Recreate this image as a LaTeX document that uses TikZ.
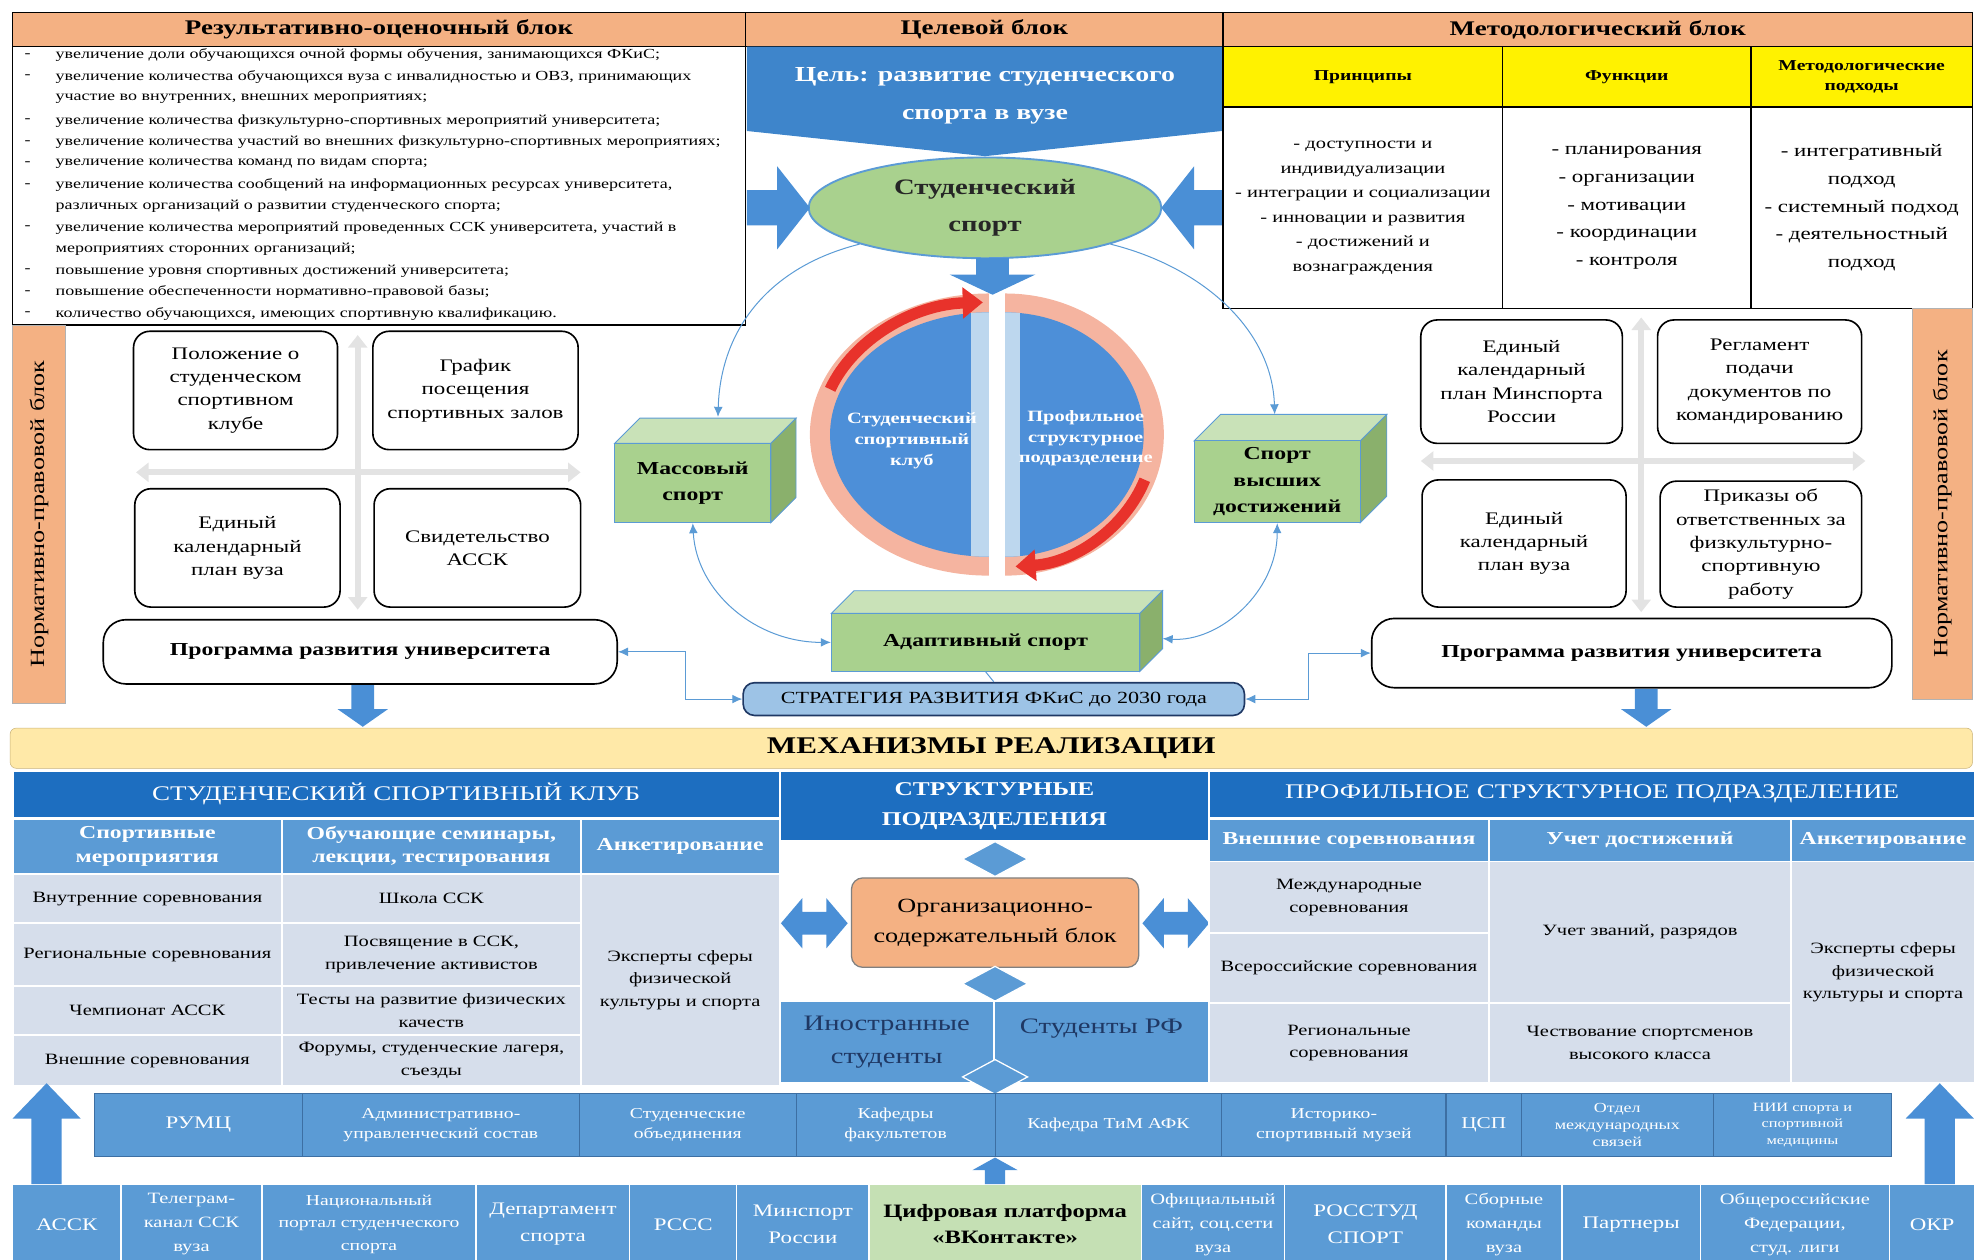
\documentclass[tikz,border=0pt]{standalone}
\usepackage{fontspec}
\setmainfont{Liberation Serif}[FakeStretch=1.3]
\usetikzlibrary{arrows.meta,shapes.geometric,calc}

\definecolor{peach}{HTML}{F4B183}
\definecolor{navy}{HTML}{1D6EC0}
\definecolor{midblue}{HTML}{5B9BD5}
\definecolor{pale}{HTML}{D6DEEB}
\definecolor{stripedge}{HTML}{3D6FA3}
\definecolor{goalblue}{HTML}{3E85CB}
\definecolor{arrowblue}{HTML}{4A8FD6}
\definecolor{linkblue}{HTML}{5B9BD5}
\definecolor{sportgreen}{HTML}{A9D18E}
\definecolor{cubegreen}{HTML}{A9D18E}
\definecolor{cubetop}{HTML}{C9E2B8}
\definecolor{cubeside}{HTML}{8AB06C}
\definecolor{vkgreen}{HTML}{C5E0B4}
\definecolor{cream}{HTML}{FFE9A8}
\definecolor{creamedge}{HTML}{C9B27A}
\definecolor{skyblue}{HTML}{9DC3E6}
\definecolor{darknavy}{HTML}{1F3864}
\definecolor{ringpink}{HTML}{F5B4A0}
\definecolor{circblue}{HTML}{4D8FD8}
\definecolor{stripe}{HTML}{BDD7EE}
\definecolor{redarc}{HTML}{E8322B}

\newcommand{\fsz}[2]{\fontsize{#1}{#2}\selectfont}

% cell given by its corners: name, style, x1, y1, x2, y2, text
\newcommand{\cellat}[7]{\node[#2, inner sep=1pt, minimum width={(#5)-(#3)}, minimum height={(#6)-(#4)}] (#1) at ({((#3)+(#5))/2},{((#4)+(#6))/2}) {#7};}
% block arrows: x, tail, tip, body half, head half, head length
\newcommand{\varrow}[6]{\fill[blockarr] ({#1-#4},#2) -- ({#1+#4},#2) -- ({#1+#4},{#3-(#6)}) -- ({#1+#5},{#3-(#6)}) -- (#1,#3) -- ({#1-#5},{#3-(#6)}) -- ({#1-#4},{#3-(#6)}) -- cycle;}
\newcommand{\harrow}[6]{\fill[blockarr] (#2,{#1-#4}) -- (#2,{#1+#4}) -- ({#3-(#6)},{#1+#4}) -- ({#3-(#6)},{#1+#5}) -- (#3,#1) -- ({#3-(#6)},{#1-#5}) -- ({#3-(#6)},{#1-#4}) -- cycle;}
\newcommand{\dblarrow}[3]{\fill[blockarr] (#1,#3) -- ({#1+17},{#3-20}) -- ({#1+17},{#3-9}) -- ({#2-17},{#3-9}) -- ({#2-17},{#3-20}) -- (#2,#3) -- ({#2-17},{#3+20}) -- ({#2-17},{#3+9}) -- ({#1+17},{#3+9}) -- ({#1+17},{#3+20}) -- cycle;}
% green box: name, x1, y1, x2, y2, depth, text
\newcommand{\greencube}[7]{%
  \filldraw[fill=cubetop, draw=linkblue, line width=0.7pt] (#2,#3) -- ({#2+#6},{#3-#6}) -- ({#4+#6},{#3-#6}) -- (#4,#3) -- cycle;
  \filldraw[fill=cubeside, draw=linkblue, line width=0.7pt] (#4,#3) -- ({#4+#6},{#3-#6}) -- ({#4+#6},{#5-#6}) -- (#4,#5) -- cycle;
  \cellat{#1}{cubefront}{#2}{#3}{#4}{#5}{#7}}

\tikzset{
  hdr/.style={draw=black, line width=1.1pt, fill=peach, font=\fsz{16.5}{19}\bfseries},
  tabframe/.style={draw=black, line width=1.1pt},
  yelcell/.style={tabframe, fill=yellow, align=center, font=\fsz{12}{16}\bfseries},
  bodycell/.style={tabframe, fill=white, align=center, font=\fsz{12.5}{19.5}},
  listtxt/.style={font=\fsz{11}{14}, inner sep=0pt},
  goaltxt/.style={text=white, align=center, font=\fsz{17}{30}\bfseries},
  doc/.style={draw=black, line width=1.3pt, rounded corners=13pt, fill=white, align=center, font=\fsz{14}{18.5}},
  prog/.style={draw=black, line width=1.3pt, rounded corners=18pt, fill=white, font=\fsz{14.5}{18}\bfseries},
  normbar/.style={fill=peach, draw=gray!60, rotate=90, font=\fsz{16}{18}},
  cubefront/.style={fill=cubegreen, draw=linkblue, line width=0.7pt, align=center, font=\fsz{14.5}{21}\bfseries},
  stratbox/.style={fill=skyblue, draw=darknavy, line width=1.3pt, rounded corners=9pt, font=\fsz{13.5}{16}},
  link/.style={draw=linkblue, line width=0.8pt, >={Latex[length=8pt,width=7pt]}},
  crossarr/.style={draw=gray!22, line width=5pt, {Triangle[length=10pt,width=15pt]}-{Triangle[length=10pt,width=15pt]}},
  halftxt/.style={text=white, align=center, font=\fsz{12.5}{16.5}\bfseries},
  mechbar/.style={fill=cream, draw=creamedge, rounded corners=5pt, font=\fsz{19}{22}\bfseries},
  navycell/.style={fill=navy, draw=white, line width=1.5pt, text=white, align=center},
  subcell/.style={fill=midblue, draw=white, line width=1.5pt, text=white, align=center, font=\fsz{14.5}{19}\bfseries},
  palecell/.style={fill=pale, draw=white, line width=1.5pt, align=center, font=\fsz{12.5}{18}},
  orgbox/.style={fill=peach, draw=gray, line width=1pt, rounded corners=9pt, align=center, font=\fsz{16}{24}},
  bigblue/.style={fill=midblue, draw=white, line width=1.5pt, text=darknavy, align=center, font=\fsz{17.5}{26}},
  dmd/.style={diamond, fill=midblue, draw=white, line width=1pt, aspect=1.9, minimum width=52pt, minimum height=28pt, inner sep=0pt},
  stripcell/.style={fill=midblue, draw=stripedge, line width=0.8pt, text=white, align=center, font=\fsz{12}{16}},
  rowcell/.style={fill=midblue, draw=white, line width=1pt, text=white, align=center, font=\fsz{12.5}{19}},
  vkcell/.style={fill=vkgreen, draw=white, line width=1pt, align=center, font=\fsz{15}{21}\bfseries},
  blockarr/.style={fill=arrowblue},
}

\begin{document}
\begin{tikzpicture}[x=1pt,y=-1pt]
\useasboundingbox (0,0) rectangle (1568,1000);

% top blocks
\cellat{reshead}{hdr}{10}{10}{592}{37}{Результативно-оценочный блок}
\cellat{goalhead}{hdr}{592}{10}{971}{37}{Целевой блок}
\cellat{methhead}{hdr}{971}{10}{1566}{37}{Методологический блок}
\cellat{reslist}{tabframe}{10}{37}{592}{258}{}
\foreach \i/\yy/\txt in {1/44/{увеличение доли обучающихся очной формы обучения, занимающихся ФКиС;},
    2/61/{увеличение количества обучающихся вуза с инвалидностью и ОВЗ, принимающих},
    3/78/{участие во внутренних, внешних мероприятиях;},
    4/96/{увеличение количества физкультурно-спортивных мероприятий университета;},
    5/113/{увеличение количества участий во внешних физкультурно-спортивных мероприятиях;},
    6/130/{увеличение количества команд по видам спорта;},
    7/147/{увеличение количества сообщений на информационных ресурсах университета,},
    8/164/{различных организаций о развитии студенческого спорта;},
    9/181/{увеличение количества мероприятий проведенных ССК университета, участий в},
    10/198/{мероприятиях сторонних организаций;},
    11/215/{повышение уровня спортивных достижений университета;},
    12/232/{повышение обеспеченности нормативно-правовой базы;},
    13/249/{количество обучающихся, имеющих спортивную квалификацию.}}
  \node[listtxt, anchor=west] (res\i) at (44,\yy) {\txt};
\foreach \i/\yy in {1/44,2/61,4/96,5/113,6/130,7/147,9/181,11/215,12/232,13/249}
  \node[listtxt] (dash\i) at (22,\yy) {-};

\fill[goalblue] (593,37) -- (970,37) -- (970,104) -- (782,124) -- (593,104) -- cycle;
\node[goaltxt] (goal) at (782,76) {Цель: развитие студенческого\\спорта в вузе};
\node[ellipse, fill=sportgreen, draw=linkblue, line width=1.5pt, minimum width=280pt, minimum height=80pt,
  align=center, font=\fsz{17.5}{29}\bfseries, text=black!85] (stusport) at (782,165) {Студенческий\\спорт};
\harrow{165}{593}{643}{14}{33}{26}
\harrow{165}{970}{922}{14}{33}{-26}
\varrow{788}{205}{234}{13}{34}{16}

\cellat{princh}{yelcell}{971}{37}{1193}{85}{Принципы}
\cellat{funch}{yelcell}{1193}{37}{1390}{85}{Функции}
\cellat{apprh}{yelcell}{1390}{37}{1566}{85}{Методологические\\подходы}
\cellat{princ}{bodycell}{971}{85}{1193}{245}{- доступности и\\индивидуализации\\- интеграции и социализации\\- инновации и развития\\- достижений и\\вознаграждения}
\cellat{func}{bodycell, font=\fsz{14}{22}}{1193}{85}{1390}{245}{- планирования\\- организации\\- мотивации\\- координации\\- контроля}
\cellat{appr}{bodycell, font=\fsz{14}{22}}{1390}{85}{1566}{245}{- интегративный\\подход\\- системный подход\\- деятельностный\\подход}

% normative blocks
\node[normbar, minimum width=300pt, minimum height=42pt] (normL) at (31,408) {Нормативно-правовой блок};
\node[normbar, minimum width=310pt, minimum height=48pt] (normR) at (1542,400) {Нормативно-правовой блок};

\coordinate (vtopL) at (284,266);
\coordinate (vbotL) at (284,484);
\coordinate (hlftL) at (108,375);
\coordinate (hrgtL) at (461,375);
\draw[crossarr] (vtopL) -- (vbotL);
\draw[crossarr] (hlftL) -- (hrgtL);
\cellat{polozh}{doc}{106}{263}{268}{357}{Положение о\\студенческом\\спортивном\\клубе}
\cellat{grafik}{doc}{296}{263}{459}{357}{График\\посещения\\спортивных залов}
\cellat{edplanL}{doc}{107}{388}{270}{482}{Единый\\календарный\\план вуза}
\cellat{svid}{doc}{297}{388}{461}{482}{Свидетельство\\АССК}
\cellat{proglft}{prog}{82}{492}{490}{543}{Программа развития университета}
\varrow{288}{544}{577}{9}{20}{14}

\coordinate (vtopR) at (1303,252);
\coordinate (vbotR) at (1303,486);
\coordinate (hlftR) at (1128,366);
\coordinate (hrgtR) at (1481,366);
\draw[crossarr] (vtopR) -- (vbotR);
\draw[crossarr] (hlftR) -- (hrgtR);
\cellat{edplanM}{doc}{1128}{254}{1288}{352}{Единый\\календарный\\план Минспорта\\России}
\cellat{reglam}{doc}{1316}{254}{1478}{352}{Регламент\\подачи\\документов по\\командированию}
\cellat{edplanR}{doc}{1129}{381}{1291}{482}{Единый\\календарный\\план вуза}
\cellat{prikaz}{doc}{1318}{382}{1478}{482}{Приказы об\\ответственных за\\физкультурно-\\спортивную\\работу}
\cellat{progrgt}{prog}{1089}{491}{1502}{546}{Программа развития университета}
\varrow{1307}{547}{577}{9}{20}{14}

% circle of two halves
\begin{scope}
  \clip (600,200) rectangle (785,480);
  \fill[ringpink] (785,345) ellipse [x radius=142, y radius=112];
  \fill[circblue] (785,345) ellipse [x radius=126, y radius=97];
  \clip (785,345) ellipse [x radius=126, y radius=97];
  \fill[stripe] (771,240) rectangle (785,450);
\end{scope}
\begin{scope}
  \clip (798,200) rectangle (960,480);
  \fill[ringpink] (798,345) ellipse [x radius=126, y radius=112];
  \fill[circblue] (798,345) ellipse [x radius=110, y radius=97];
  \clip (798,345) ellipse [x radius=110, y radius=97];
  \fill[stripe] (798,240) rectangle (810,450);
\end{scope}
\draw[redarc, line width=9pt, -{Triangle[length=16pt,width=24pt]}] (785,345) ++(200:134 and 105) arc[start angle=200, end angle=268, x radius=134, y radius=105];
\draw[redarc, line width=9pt, -{Triangle[length=16pt,width=24pt]}] (798,345) ++(20:118 and 105) arc[start angle=20, end angle=86, x radius=118, y radius=105];
\node[halftxt] (clubtxt) at (724,350) {Студенческий\\спортивный\\клуб};
\node[halftxt] (deptxt) at (862,348) {Профильное\\структурное\\подразделение};

\greencube{mass}{488}{352}{612}{415}{20}{Массовый\\спорт}
\greencube{peak}{948}{350}{1080}{415}{21}{Спорт\\высших\\достижений}
\greencube{adapt}{660}{487}{905}{533}{18}{Адаптивный спорт}
\cellat{strategy}{stratbox}{590}{542}{988}{568}{СТРАТЕГИЯ РАЗВИТИЯ ФКиС до 2030 года}

\coordinate (masstop) at (570,331);
\coordinate (peaktop) at (1012,329);
\coordinate (adaptside) at (923,507);
\draw[link,->] (stusport.south west) .. controls (610,212) and (572,262) .. (masstop);
\draw[link,->] (stusport.south east) .. controls (955,212) and (1010,262) .. (peaktop);
\draw[link,<->] (mass.south) .. controls (553,470) and (600,510) .. (adapt.west);
\draw[link,<->] (peak.south) .. controls (1014,470) and (968,510) .. (adaptside);
\draw[link] (adapt.south) -- (strategy.north);
\draw[link,<->] (strategy.west) -- ++(-45,0) |- (proglft.east);
\draw[link,<->] (strategy.east) -- ++(50,0) |- (progrgt.west);

% mechanisms
\cellat{mech}{mechbar}{8}{578}{1566}{610}{МЕХАНИЗМЫ РЕАЛИЗАЦИИ}

\cellat{sskhead}{navycell, font=\fsz{16.5}{20}}{10}{612}{619}{649}{СТУДЕНЧЕСКИЙ СПОРТИВНЫЙ КЛУБ}
\cellat{ssksub1}{subcell}{10}{650}{224}{694}{Спортивные\\мероприятия}
\cellat{ssksub2}{subcell}{224}{650}{461}{694}{Обучающие семинары,\\лекции, тестирования}
\cellat{ssksub3}{subcell}{461}{650}{619}{694}{Анкетирование}
\cellat{ssk11}{palecell}{10}{694}{224}{733}{Внутренние соревнования}
\cellat{ssk12}{palecell}{10}{733}{224}{783}{Региональные соревнования}
\cellat{ssk13}{palecell}{10}{783}{224}{822}{Чемпионат АССК}
\cellat{ssk14}{palecell}{10}{822}{224}{862}{Внешние соревнования}
\cellat{ssk21}{palecell}{224}{694}{461}{733}{Школа ССК}
\cellat{ssk22}{palecell}{224}{733}{461}{783}{Посвящение в ССК,\\привлечение активистов}
\cellat{ssk23}{palecell}{224}{783}{461}{822}{Тесты на развитие физических\\качеств}
\cellat{ssk24}{palecell}{224}{822}{461}{862}{Форумы, студенческие лагеря,\\съезды}
\cellat{ssk3}{palecell}{461}{694}{619}{862}{Эксперты сферы\\физической\\культуры и спорта}

\cellat{structhead}{navycell, font=\fsz{15.5}{24}\bfseries}{619}{612}{960}{668}{СТРУКТУРНЫЕ\\ПОДРАЗДЕЛЕНИЯ}
\node[dmd] (dtop) at (790,682) {};
\cellat{orgblock}{orgbox}{676}{697}{904}{768}{Организационно-\\содержательный блок}
\node[dmd] (dmid) at (790,781) {};
\dblarrow{620}{673}{733}
\dblarrow{907}{960}{733}
\cellat{forstud}{bigblue}{619}{795}{789}{860}{Иностранные\\студенты}
\cellat{rfstud}{bigblue}{789}{795}{960}{860}{Студенты РФ\\\phantom{с}}
\node[dmd] (dbot) at (790,855) {};

\cellat{psphead}{navycell, font=\fsz{16.5}{20}}{960}{612}{1568}{649}{ПРОФИЛЬНОЕ СТРУКТУРНОЕ ПОДРАЗДЕЛЕНИЕ}
\cellat{pspsub1}{subcell}{960}{650}{1182}{684}{Внешние соревнования}
\cellat{pspsub2}{subcell}{1182}{650}{1422}{684}{Учет достижений}
\cellat{pspsub3}{subcell}{1422}{650}{1568}{684}{Анкетирование}
\cellat{psp11}{palecell}{960}{684}{1182}{741}{Международные\\соревнования}
\cellat{psp12}{palecell}{960}{741}{1182}{796}{Всероссийские соревнования}
\cellat{psp13}{palecell}{960}{796}{1182}{860}{Региональные\\соревнования}
\cellat{psp21}{palecell}{1182}{684}{1422}{796}{Учет званий, разрядов}
\cellat{psp22}{palecell}{1182}{796}{1422}{860}{Чествование спортсменов\\высокого класса}
\cellat{psp3}{palecell}{1422}{684}{1568}{860}{Эксперты сферы\\физической\\культуры и спорта}

% participants
\cellat{sRumc}{stripcell, font=\fsz{14}{17}}{75}{868}{240}{918}{РУМЦ}
\cellat{sAdmin}{stripcell}{240}{868}{460}{918}{Административно-\\управленческий состав}
\cellat{sUnions}{stripcell}{460}{868}{632}{918}{Студенческие\\объединения}
\cellat{sDepts}{stripcell}{632}{868}{790}{918}{Кафедры\\факультетов}
\cellat{sTim}{stripcell}{790}{868}{970}{918}{Кафедра ТиМ АФК}
\cellat{sMuseum}{stripcell}{970}{868}{1148}{918}{Историко-\\спортивный музей}
\cellat{sCsp}{stripcell, font=\fsz{13}{16}}{1148}{868}{1208}{918}{ЦСП}
\cellat{sIntl}{stripcell, font=\fsz{11}{13.5}}{1208}{868}{1360}{918}{Отдел\\международных\\связей}
\cellat{sNii}{stripcell, font=\fsz{10}{13}}{1360}{868}{1502}{918}{НИИ спорта и\\спортивной\\медицины}

\cellat{bAssk}{rowcell, font=\fsz{14}{19}}{10}{940}{96}{1004}{АССК}
\cellat{bTelegram}{rowcell}{96}{940}{208}{1004}{Телеграм-\\канал ССК\\вуза}
\cellat{bPortal}{rowcell, font=\fsz{12}{18}}{208}{940}{378}{1004}{Национальный\\портал студенческого\\спорта}
\cellat{bDept}{rowcell, font=\fsz{14}{21}}{378}{940}{500}{1004}{Департамент\\спорта}
\cellat{bRsss}{rowcell, font=\fsz{14}{19}}{500}{940}{585}{1004}{РССС}
\cellat{bMinsport}{rowcell, font=\fsz{14}{21}}{585}{940}{690}{1004}{Минспорт\\России}
\cellat{bVk}{vkcell}{690}{940}{906}{1004}{Цифровая платформа\\«ВКонтакте»}
\cellat{bSite}{rowcell}{906}{940}{1020}{1004}{Официальный\\сайт, соц.сети\\вуза}
\cellat{bRosstud}{rowcell, font=\fsz{14}{21}}{1020}{940}{1148}{1004}{РОССТУД\\СПОРТ}
\cellat{bTeams}{rowcell}{1148}{940}{1240}{1004}{Сборные\\команды\\вуза}
\cellat{bPartners}{rowcell, font=\fsz{14}{19}}{1240}{940}{1350}{1004}{Партнеры}
\cellat{bFeder}{rowcell}{1350}{940}{1500}{1004}{Общероссийские\\Федерации,\\студ. лиги}
\cellat{bOkr}{rowcell, font=\fsz{14}{19}}{1500}{940}{1568}{1004}{ОКР}

\varrow{37}{940}{860}{12}{27}{-28}
\varrow{1540}{940}{860}{12}{27}{-28}
\varrow{790}{940}{919}{8}{18}{-10}
\end{tikzpicture}
\end{document}
